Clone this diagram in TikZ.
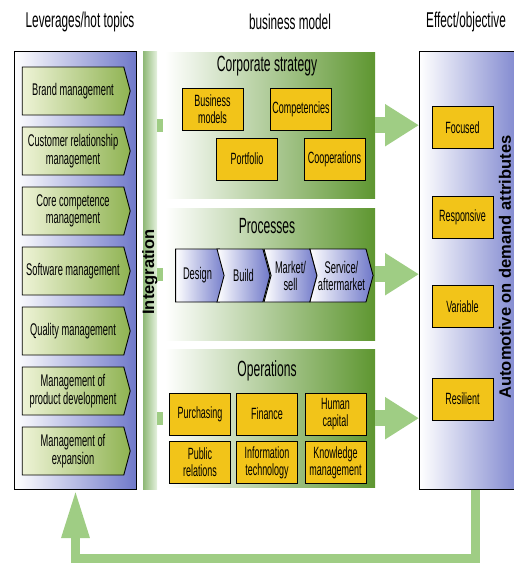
\documentclass[tikz,border=0pt]{standalone}
\usepackage{fontspec}
\setmainfont{Liberation Sans}
\newfontfamily\condfont{Liberation Sans}[FakeStretch=0.55]
\usetikzlibrary{arrows.meta,positioning,shapes.symbols}

\definecolor{levblue}{HTML}{6F78C9}
\definecolor{itempale}{HTML}{EEF3D6}
\definecolor{itemgreen}{HTML}{8FB352}
\definecolor{panelgreen}{HTML}{5E9630}
\definecolor{arrowgreen}{HTML}{9FCD84}
\definecolor{boxyellow}{HTML}{F2C419}

\tikzset{
  header/.style={font=\condfont\fontsize{21.4}{22}\selectfont},
  column/.style={draw=black, line width=1pt, left color=white, right color=levblue,
    anchor=north west, inner sep=0pt, minimum height=438},
  leveritem/.style={shape=signal, signal to=east, signal pointer angle=150,
    draw=black, line width=0.9pt, left color=itempale, right color=itemgreen,
    minimum width=108, minimum height=48, inner sep=1pt, align=center,
    font=\condfont\fontsize{16.9}{17.5}\selectfont},
  panel/.style={left color=white, right color=panelgreen, anchor=north west,
    inner sep=0pt, minimum width=210},
  ptitle/.style={font=\condfont\fontsize{22}{22}\selectfont},
  ybox/.style={draw=black, line width=1pt, fill=boxyellow, minimum width=61,
    minimum height=42, inner sep=1pt, align=center,
    font=\condfont\fontsize{16.3}{17}\selectfont},
  stage/.style={shape=signal, signal to=east, signal from=west,
    signal pointer angle=150, draw=black, line width=0.9pt, left color=white,
    right color=levblue, minimum height=53, inner sep=1pt, align=center,
    font=\condfont\fontsize{16.9}{17}\selectfont},
  vertlabel/.style={rotate=90, font=\bfseries\fontsize{16.5}{17}\selectfont},
  bigarrow/.style={draw=arrowgreen, line width=16pt,
    -{Triangle[width=40pt, length=34pt]}},
  tab/.style={draw=arrowgreen, line width=13pt, shorten >=2pt},
  backarrow/.style={draw=arrowgreen, line width=9pt,
    -{Triangle[width=26pt, length=48pt]}}
}

\begin{document}
\begin{tikzpicture}[x=1pt, y=-1pt]

\useasboundingbox (0,0) rectangle (514,563);
\clip (0,0) rectangle (514,563);

% Column headers
\node[header] (hleft)  at (80,22)  {Leverages/hot topics};
\node[header] (hmid)   at (290,22) {business model};
\node[header] (hright) at (466,22) {Effect/objective};

% Left column: leverages
\node[column, minimum width=122] (lever) at (14,51) {};
\node[leveritem] (brand)   at (73,91)  {Brand management};
\node[leveritem] (crm)     at (73,151) {Customer relationship\\management};
\node[leveritem] (core)    at (73,211) {Core competence\\management};
\node[leveritem] (soft)    at (73,271) {Software management};
\node[leveritem] (quality) at (73,331) {Quality management};
\node[leveritem] (prodev)  at (73,391) {Management of\\product development};
\node[leveritem] (expand)  at (73,451) {Management of\\expansion};

% Integration bar
\node[anchor=north west, inner sep=0pt, minimum width=14, minimum height=438,
  left color=arrowgreen!90!black, right color=arrowgreen!25] (integ) at (143,51) {};
\node[vertlabel] (integtxt) at (150,272) {Integration};

% Middle column: business model panels
\node[panel, minimum height=146] (corp) at (165,52)  {};
\node[panel, minimum height=132] (proc) at (165,208) {};
\node[panel, minimum height=138] (oper) at (165,349) {};

\node[ptitle] (corptitle) at (267,66)  {Corporate strategy};
\node[ptitle] (proctitle) at (267,226) {Processes};
\node[ptitle] (opertitle) at (267,371) {Operations};

% Corporate strategy
\node[ybox] (bizmod)  at (212.5,109) {Business\\models};
\node[ybox] (compet)  at (301,109)   {Competencies};
\node[ybox] (portf)   at (247,159)   {Portfolio};
\node[ybox] (coop)    at (334.5,159) {Cooperations};

% Process chain
\node[stage, signal from=nowhere, minimum width=51] (design) at (197.5,275.5) {Design};
\node[stage, minimum width=53] (build)   at (243.5,275.5) {Build};
\node[stage, minimum width=53] (market)  at (290.5,275.5) {Market/\\sell};
\node[stage, minimum width=61] (service) at (341.5,275.5) {Service/\\aftermarket};

% Operations
\node[ybox] (purch)   at (200,414)   {Purchasing};
\node[ybox] (finance) at (267,414)   {Finance};
\node[ybox] (human)   at (335.5,414) {Human\\capital};
\node[ybox] (public)  at (200,462.5)   {Public\\relations};
\node[ybox] (infotec) at (267,462.5)   {Information\\technology};
\node[ybox] (knowl)   at (335.5,462.5) {Knowledge\\management};

% Right column: effects
\node[column, minimum width=112] (effect) at (419,51) {};
\node[ybox] (focused)    at (462.5,127.5) {Focused};
\node[ybox] (responsive) at (462.5,217.5) {Responsive};
\node[ybox] (variable)   at (462.5,306.5) {Variable};
\node[ybox] (resilient)  at (462.5,399)   {Resilient};
\node[vertlabel] (efftxt) at (505,267) {Automotive on demand attributes};

% Tabs from the integration bar
\draw[tab] (integ.east |- corp.west) -- (corp.west);
\draw[tab] (integ.east |- proc.west) -- (proc.west);
\draw[tab] (integ.east |- oper.west) -- (oper.west);

% Arrows to the effects
\draw[bigarrow] (corp.east) -- (corp.east -| effect.west);
\draw[bigarrow] (proc.east) -- (proc.east -| effect.west);
\draw[bigarrow] (oper.east) -- (oper.east -| effect.west);

% Feedback loop
\draw[backarrow] (effect.south) -- ++(0,68) -| (lever.south);

\end{tikzpicture}
\end{document}
